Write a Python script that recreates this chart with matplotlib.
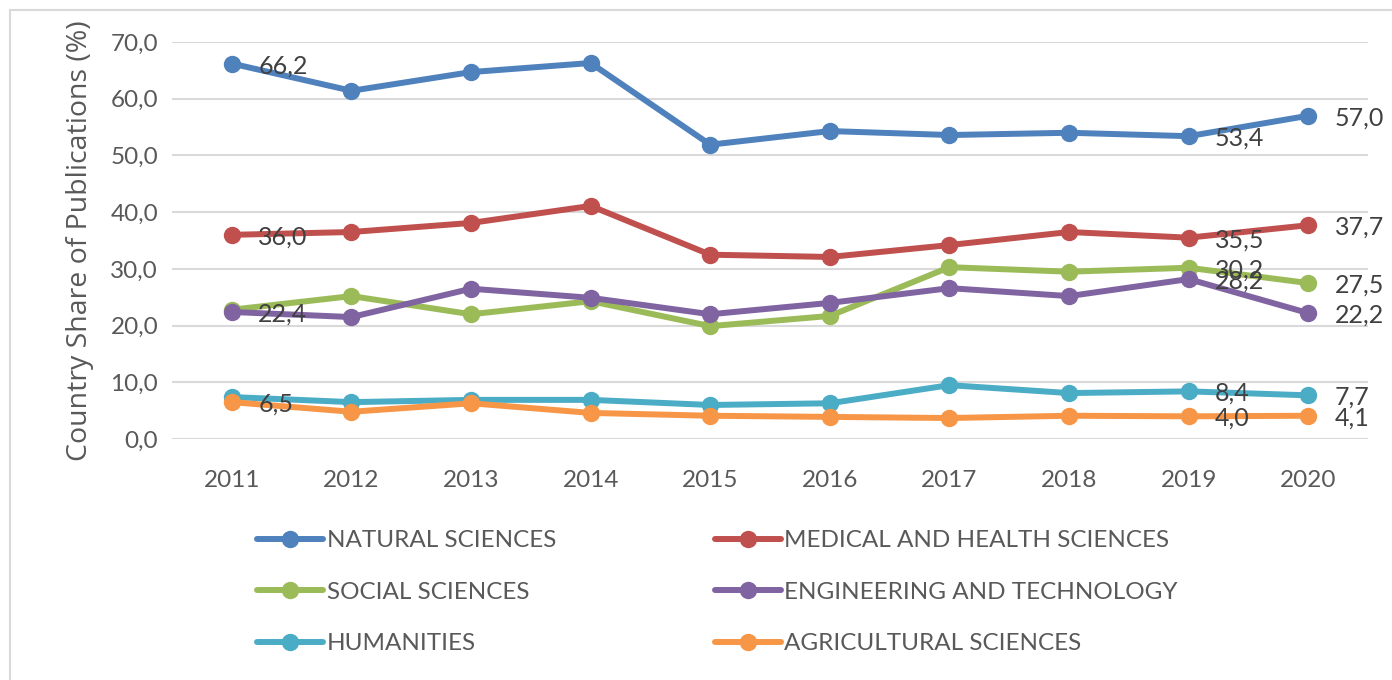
import matplotlib
matplotlib.use('Agg')
from matplotlib import pyplot as plt
from matplotlib.patches import Rectangle

years = ['2011', '2012', '2013', '2014', '2015', '2016', '2017', '2018', '2019', '2020']

natural = [66.2, 61.4, 64.7, 66.3, 51.9, 54.3, 53.6, 54.0, 53.4, 57.0]
medical = [36.0, 36.5, 38.1, 41.1, 32.5, 32.1, 34.2, 36.5, 35.5, 37.7]
social = [22.8, 25.2, 22.0, 24.3, 19.9, 21.7, 30.3, 29.5, 30.2, 27.5]
engineering = [22.4, 21.5, 26.5, 24.9, 22.0, 24.0, 26.6, 25.2, 28.2, 22.2]
humanities = [7.4, 6.5, 6.9, 6.9, 6.0, 6.3, 9.5, 8.1, 8.4, 7.7]
agricultural = [6.5, 4.8, 6.3, 4.6, 4.1, 3.9, 3.7, 4.1, 4.0, 4.1]

names = ['NATURAL SCIENCES', 'MEDICAL AND HEALTH SCIENCES', 'SOCIAL SCIENCES',
         'ENGINEERING AND TECHNOLOGY', 'HUMANITIES', 'AGRICULTURAL SCIENCES']
colors = ['#4F81BD', '#C0504D', '#9BBB59', '#8064A2', '#4BACC6', '#F79646']
# which points carry a value label
labelled = [[0, 8, 9], [0, 8, 9], [8, 9], [0, 8, 9], [8, 9], [0, 8, 9]]

series = [natural, medical, social, engineering, humanities, agricultural]

fig = plt.figure(figsize=(13.92, 6.8), dpi=100)
ax = fig.add_axes([0.1236, 0.3544, 0.8592, 0.5838])

x = range(len(years))
lines = []
for vals, name, col, idx in zip(series, names, colors, labelled):
    ln, = ax.plot(x, vals, color=col, lw=4.3, marker='o', ms=11.5,
                  solid_capstyle='round', label=name)
    lines.append(ln)
    for i in idx:
        ax.annotate(f'{vals[i]:.1f}'.replace('.', ','), (i, vals[i]),
                    xytext=(19, -1.5), textcoords='offset points',
                    ha='left', va='center', fontsize=18, color='#404040',
                    family='Lato')

ax.set_xlim(-0.5, len(years) - 0.5)
ax.set_ylim(0, 70)
ax.set_yticks(range(0, 71, 10))
ax.set_yticklabels([f'{v},0' for v in range(0, 71, 10)], family='Lato')
ax.set_xticks(list(x))
ax.set_xticklabels(years, family='Lato')
ax.tick_params(length=0, labelsize=17.5, labelcolor='#595959')
ax.tick_params(axis='x', pad=22)
ax.tick_params(axis='y', pad=10)
ax.grid(axis='y', color='#D9D9D9', lw=1.5)
ax.set_axisbelow(True)
for s in ax.spines.values():
    s.set_visible(False)
ax.set_ylabel('Country Share of Publications (%)', fontsize=20.5,
              color='#595959', family='Open Sans', labelpad=12)

# legend: row-wise order in two columns
order = [0, 2, 4, 1, 3, 5]
ax.legend([lines[i] for i in order], [names[i] for i in order],
          ncol=2, loc='upper left', bbox_to_anchor=(0.053, -0.175),
          frameon=False, handlelength=2.7, handletextpad=0.15,
          columnspacing=6.55, labelspacing=1.25,
          prop={'family': 'Lato', 'size': 17.5},
          labelcolor='#595959')

fig.patches.append(Rectangle((0.007, -0.01), 1.0, 0.995, transform=fig.transFigure,
                             fill=False, edgecolor='#D9D9D9', lw=1.5))

fig.savefig('out.png', dpi=100)
